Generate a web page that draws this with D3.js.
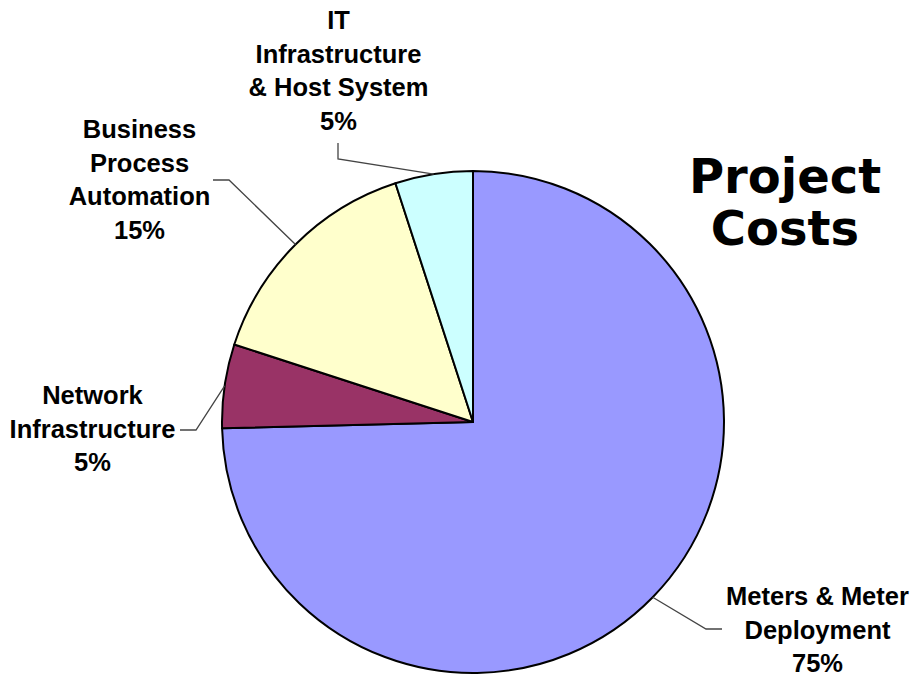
<!DOCTYPE html>
<html>
<head>
<meta charset="utf-8">
<script src="https://cdn.jsdelivr.net/npm/d3@7/dist/d3.min.js"></script>
<style>
  html, body { margin: 0; padding: 0; background: #ffffff; }
  svg { display: block; }
</style>
</head>
<body>
<svg id="chart" width="923" height="684"></svg>
<script>
// ---- data ----
const categories = [
  ["Meters & Meter", "Deployment"],
  ["Network", "Infrastructure"],
  ["Business", "Process", "Automation"],
  ["IT", "Infrastructure", "& Host System"]
];
const values = [74.6, 5.4, 15.0, 5.0];
const colors = ["#9999ff", "#993366", "#ffffcc", "#ccffff"];
const title = ["Project", "Costs"];

// ---- layout ----
const W = 923, H = 684;
const cx = 473, cy = 422, R = 251;
const lineStep = 33.7;
// label anchor (text centre x, first baseline y) and leader elbow/end points
const labelPos = [
  { x: 817.5, y: 605, elbow: [706, 629], end: [722, 629] },
  { x: 92.5, y: 404, elbow: [196, 430], end: [180, 430] },
  { x: 139.5, y: 138, elbow: [229, 180], end: [213, 180] },
  { x: 338.5, y: 29, elbow: [338, 159], end: [338, 143] }
];

const svg = d3.select("#chart");
const g = svg.append("g").attr("transform", `translate(${cx},${cy})`);

const total = d3.sum(values);
const pie = d3.pie().sort(null).value(d => d).startAngle(0).endAngle(2 * Math.PI);
const arcs = pie(values);
const arc = d3.arc().innerRadius(0).outerRadius(R);

g.selectAll("path.slice")
  .data(arcs)
  .join("path")
  .attr("class", "slice")
  .attr("d", arc)
  .attr("fill", (d, i) => colors[i])
  .attr("stroke", "#000")
  .attr("stroke-width", 2)
  .attr("stroke-linejoin", "round");

// leader lines from slice mid-angle on the rim
arcs.forEach((d, i) => {
  const a = (d.startAngle + d.endAngle) / 2;
  const px = cx + R * Math.sin(a);
  const py = cy - R * Math.cos(a);
  const lp = labelPos[i];
  svg.append("polyline")
    .attr("points", [[px, py], lp.elbow, lp.end].map(p => p.join(",")).join(" "))
    .attr("fill", "none")
    .attr("stroke", "#444")
    .attr("stroke-width", 1.3);
});

// labels
arcs.forEach((d, i) => {
  const lp = labelPos[i];
  const lines = categories[i].concat([Math.round(d.value / total * 100) + "%"]);
  const t = svg.append("text")
    .attr("text-anchor", "middle")
    .attr("font-family", "'Liberation Sans', Arial, sans-serif")
    .attr("font-weight", "bold")
    .attr("font-size", 25.5)
    .attr("fill", "#000");
  lines.forEach((s, k) => {
    t.append("tspan").attr("x", lp.x).attr("y", lp.y + k * lineStep).text(s);
  });
});

// title
const tt = svg.append("text")
  .attr("text-anchor", "middle")
  .attr("font-family", "'DejaVu Sans', Verdana, sans-serif")
  .attr("font-weight", "bold")
  .attr("font-size", 48)
  .attr("fill", "#000");
title.forEach((s, k) => {
  tt.append("tspan").attr("x", 785).attr("y", 193 + k * 52).text(s);
});
</script>
</body>
</html>
